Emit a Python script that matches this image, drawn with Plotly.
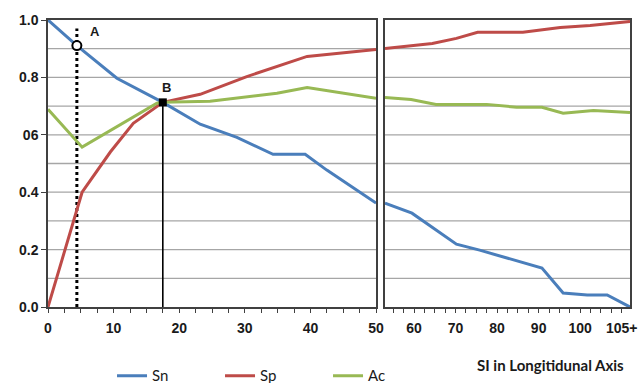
import plotly.graph_objects as go

# ---- data ----
sn_x = [0, 4.4, 10.5, 17.5, 23.2, 28.8, 34.3, 39.2, 42.5, 50,
        53, 59.5, 70.2, 75.8, 90.8, 95.9, 101.7, 106.5, 112]
sn_y = [1.0, 0.911, 0.797, 0.713, 0.637, 0.591, 0.532, 0.532, 0.477, 0.362,
        0.362, 0.327, 0.219, 0.198, 0.136, 0.049, 0.042, 0.042, 0.0]

sp_x = [0, 5.2, 9.5, 13, 17.5, 23.2, 30.3, 39.5, 50,
        53, 64.4, 70.2, 75.3, 86.2, 95.2, 102.4, 112]
sp_y = [0.0, 0.40, 0.54, 0.64, 0.713, 0.741, 0.803, 0.873, 0.897,
        0.901, 0.918, 0.936, 0.957, 0.957, 0.974, 0.981, 0.995]

ac_x = [0, 5.2, 16.6, 17.5, 24.7, 34.9, 39.5, 50,
        53, 59.3, 65.3, 70.9, 77.5, 84.7, 90.8, 95.9, 103.2, 112]
ac_y = [0.689, 0.557, 0.71, 0.713, 0.717, 0.745, 0.765, 0.727,
        0.730, 0.723, 0.706, 0.706, 0.706, 0.696, 0.696, 0.675, 0.685, 0.678]

point_a = (4.4, 0.911)
point_b = (17.5, 0.713)

left_ticks = [0, 10, 20, 30, 40, 50]
right_ticks = [60, 70, 80, 90, 100, 110]
right_ticktext = ["60", "70", "80", "90", "100", "105+"]
y_ticks = [0.0, 0.2, 0.4, 0.6, 0.8, 1.0]
y_ticktext = ["0.0", "0.2", "0.4", "06", "0.8", "1.0"]
grid_levels = [0.1, 0.2, 0.3, 0.4, 0.5, 0.6, 0.7, 0.8, 0.9]

series = [("Sn", sn_x, sn_y, "#4a7ebb"),
          ("Sp", sp_x, sp_y, "#be4b48"),
          ("Ac", ac_x, ac_y, "#98b954")]

SPLIT = 51

fig = go.Figure()

# horizontal grid lines in both panels
for xr, yr in (("x", "y"), ("x2", "y2")):
    for g in grid_levels:
        fig.add_shape(type="line", xref=f"{xr} domain", yref=yr,
                      x0=0, x1=1, y0=g, y1=g, layer="below",
                      line=dict(color="#a6a6a6", width=1.3))

# reference lines
fig.add_trace(go.Scatter(x=[point_a[0], point_a[0]], y=[0, 0.97], mode="lines",
                         line=dict(color="black", width=3, dash="dot"),
                         showlegend=False, xaxis="x", yaxis="y"))
fig.add_trace(go.Scatter(x=[point_b[0], point_b[0]], y=[0, point_b[1]], mode="lines",
                         line=dict(color="black", width=1.6),
                         showlegend=False, xaxis="x", yaxis="y"))

for name, xs, ys, col in series:
    lx = [x for x in xs if x <= SPLIT]
    ly = [y for x, y in zip(xs, ys) if x <= SPLIT]
    rx = [x for x in xs if x > SPLIT]
    ry = [y for x, y in zip(xs, ys) if x > SPLIT]
    fig.add_trace(go.Scatter(x=lx, y=ly, mode="lines", name=name,
                             line=dict(color=col, width=3),
                             legendgroup=name, showlegend=True,
                             xaxis="x", yaxis="y", cliponaxis=False))
    fig.add_trace(go.Scatter(x=rx, y=ry, mode="lines", name=name,
                             line=dict(color=col, width=3),
                             legendgroup=name, showlegend=False,
                             xaxis="x2", yaxis="y2", cliponaxis=False))

# markers A and B
fig.add_trace(go.Scatter(x=[point_a[0]], y=[point_a[1]], mode="markers",
                         marker=dict(symbol="circle", size=9, color="white",
                                     line=dict(color="black", width=2)),
                         showlegend=False, xaxis="x", yaxis="y", cliponaxis=False))
fig.add_trace(go.Scatter(x=[point_b[0]], y=[point_b[1]], mode="markers",
                         marker=dict(symbol="square", size=8, color="black"),
                         showlegend=False, xaxis="x", yaxis="y", cliponaxis=False))

lab_font = dict(family="Liberation Sans, Arial", size=13, color="#1a1a1a", weight="bold")

fig.add_annotation(x=point_a[0], y=point_a[1], xref="x", yref="y", text="A",
                   showarrow=False, xshift=18, yshift=14, font=lab_font)
fig.add_annotation(x=point_b[0], y=point_b[1], xref="x", yref="y", text="B",
                   showarrow=False, xshift=4, yshift=15, font=lab_font)

fig.add_annotation(x=0.993, y=-0.165, xref="paper", yref="paper",
                   xanchor="right", yanchor="top",
                   text="SI in Longitidunal Axis", showarrow=False,
                   font=dict(family="Lato", size=15, color="#1a1a1a", weight="bold"))

frame = "#404040"
tickfont = dict(family="Liberation Sans, Arial", size=14, color="#1a1a1a", weight="bold")

fig.update_layout(
    width=638, height=383,
    margin=dict(l=48, r=8, t=20, b=76, autoexpand=False),
    paper_bgcolor="white", plot_bgcolor="white",
    xaxis=dict(domain=[0, 0.5636], range=[0, 50], tickvals=left_ticks,
               showline=True, linecolor=frame, linewidth=1.5, mirror=True,
               showgrid=False, zeroline=False, ticks="", tickfont=tickfont,
               ticklabelstandoff=7,
               minor=dict(dtick=2.5, tick0=0, ticks="outside", ticklen=4,
                          tickcolor=frame, showgrid=False)),
    xaxis2=dict(domain=[0.579, 1], range=[53, 112], tickvals=right_ticks,
                ticktext=right_ticktext,
                showline=True, linecolor=frame, linewidth=1.5, mirror=True,
                showgrid=False, zeroline=False, ticks="", tickfont=tickfont,
                ticklabelstandoff=7,
                minor=dict(dtick=2.5, tick0=0, ticks="outside", ticklen=4,
                           tickcolor=frame, showgrid=False)),
    yaxis=dict(range=[0, 1], tickvals=y_ticks, ticktext=y_ticktext,
               showline=True, linecolor=frame, linewidth=1.5, mirror=True,
               showgrid=False, zeroline=False,
               ticks="outside", ticklen=5, tickcolor=frame, tickfont=tickfont),
    yaxis2=dict(range=[0, 1], anchor="x2", showticklabels=False,
                showline=True, linecolor=frame, linewidth=1.5, mirror=True,
                showgrid=False, zeroline=False, ticks=""),
    legend=dict(orientation="h", x=0.11, y=-0.24, xanchor="left", yanchor="middle",
                font=dict(family="Lato", size=15, color="#1a1a1a"),
                entrywidth=63, entrywidthmode="pixels", bgcolor="rgba(0,0,0,0)"),
    showlegend=True,
)

fig.write_html("out.html")
